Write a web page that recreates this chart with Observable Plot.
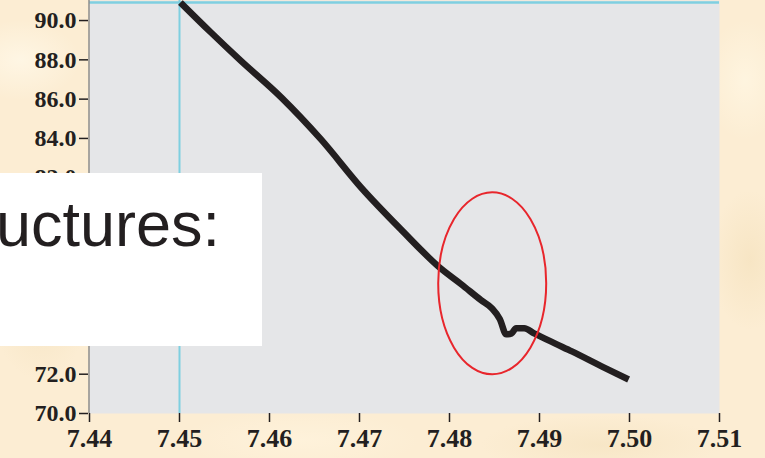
<!DOCTYPE html>
<html>
<head>
<meta charset="utf-8">
<script src="https://cdn.jsdelivr.net/npm/d3@7"></script>
<script src="https://cdn.jsdelivr.net/npm/@observablehq/plot@0.6"></script>
<style>
  html, body { margin: 0; padding: 0; }
  #wrap {
    position: relative; width: 765px; height: 458px; overflow: hidden;
    background-color: #fcedd3;
    background-image:
      radial-gradient(ellipse 60px 40px at 20px 60px, rgba(255,248,232,0.8), rgba(255,248,232,0)),
      radial-gradient(ellipse 50px 80px at 40px 300px, rgba(240,220,180,0.5), rgba(240,220,180,0)),
      radial-gradient(ellipse 40px 60px at 745px 80px, rgba(255,246,226,0.8), rgba(255,246,226,0)),
      radial-gradient(ellipse 40px 70px at 750px 260px, rgba(244,224,186,0.6), rgba(244,224,186,0)),
      radial-gradient(ellipse 120px 30px at 300px 440px, rgba(255,244,222,0.7), rgba(255,244,222,0)),
      radial-gradient(ellipse 120px 30px at 600px 445px, rgba(244,226,190,0.6), rgba(244,226,190,0));
  }
  #box {
    position: absolute; left: 0; top: 173px; width: 262px; height: 173px;
    background: #ffffff;
  }
  #box span {
    position: absolute; left: -4px; top: 20px;
    font-family: "Liberation Sans", Arial, sans-serif; font-size: 63px;
    color: #231f20; white-space: nowrap; line-height: 1;
  }
</style>
</head>
<body>
<div id="wrap"></div>
<script>
// Curve readings (depth vs. value)
const xVals = [7.4501, 7.4535, 7.4568, 7.4613, 7.4657, 7.4702, 7.4746, 7.4791, 7.4813, 7.4835, 7.4847, 7.4856, 7.4863, 7.4869, 7.4874, 7.4883, 7.4894, 7.4917, 7.4936, 7.4969, 7.4999];
const yVals = [90.92, 89.39, 87.96, 86.09, 83.96, 81.49, 79.37, 77.35, 76.58, 75.77, 75.36, 74.80, 74.03, 74.08, 74.34, 74.34, 74.08, 73.57, 73.16, 72.40, 71.73];
const xTicks = [7.44, 7.45, 7.46, 7.47, 7.48, 7.49, 7.50, 7.51];
const yTicks = [70, 72, 74, 76, 78, 80, 82, 84, 86, 88, 90];
const guideX = [7.45];
const guideY = [90.92];
const ellipseCenter = [7.4848, 76.6];
const ellipseRadii = [0.006, 4.63];
const boxText = "uctures:";

const data = xVals.map((x, i) => ({x, y: yVals[i]}));

const ellipseMark = (index, scales) => {
  const sx = scales.x, sy = scales.y;
  const ns = "http://www.w3.org/2000/svg";
  const e = document.createElementNS(ns, "ellipse");
  const cx = sx(ellipseCenter[0]), cy = sy(ellipseCenter[1]);
  e.setAttribute("cx", cx);
  e.setAttribute("cy", cy);
  e.setAttribute("rx", Math.abs(sx(ellipseCenter[0] + ellipseRadii[0]) - cx));
  e.setAttribute("ry", Math.abs(sy(ellipseCenter[1] + ellipseRadii[1]) - cy));
  e.setAttribute("fill", "none");
  e.setAttribute("stroke", "#e8262c");
  e.setAttribute("stroke-width", 2);
  return e;
};

const chart = Plot.plot({
  width: 765,
  height: 458,
  marginLeft: 89,
  marginRight: 46,
  marginTop: 0,
  marginBottom: 45,
  style: {background: "transparent", overflow: "visible"},
  x: {domain: [7.44, 7.51]},
  y: {domain: [70, 91.02]},
  marks: [
    Plot.frame({fill: "#e5e6e8", stroke: null}),
    Plot.ruleX(guideX, {stroke: "#7fcfe0", strokeWidth: 2}),
    Plot.ruleY(guideY, {stroke: "#7fcfe0", strokeWidth: 2.5}),
    Plot.ruleX([7.44], {stroke: "#8c8c8c", strokeWidth: 1.5, dx: -0.5}),
    Plot.line(data, {x: "x", y: "y", curve: "monotone-x", stroke: "#231f20", strokeWidth: 6.5, strokeLinejoin: "round", strokeLinecap: "butt"}),
    ellipseMark,
    Plot.axisX(xTicks, {tickSize: 9, tickPadding: 6, tickFormat: d3.format(".2f"), label: null,
      fontSize: 26, fontWeight: "bold", fontFamily: "Liberation Serif", color: "#231f20", strokeWidth: 1.5}),
    Plot.axisY(yTicks, {tickSize: 9, tickPadding: 3, tickFormat: d3.format(".1f"), label: null,
      fontSize: 24, fontWeight: "bold", fontFamily: "Liberation Serif", color: "#231f20", strokeWidth: 1.5, dx: -1})
  ]
});

const wrap = document.getElementById("wrap");
wrap.appendChild(chart);
const box = document.createElement("div");
box.id = "box";
const sp = document.createElement("span");
sp.textContent = boxText;
box.appendChild(sp);
wrap.appendChild(box);
</script>
</body>
</html>
